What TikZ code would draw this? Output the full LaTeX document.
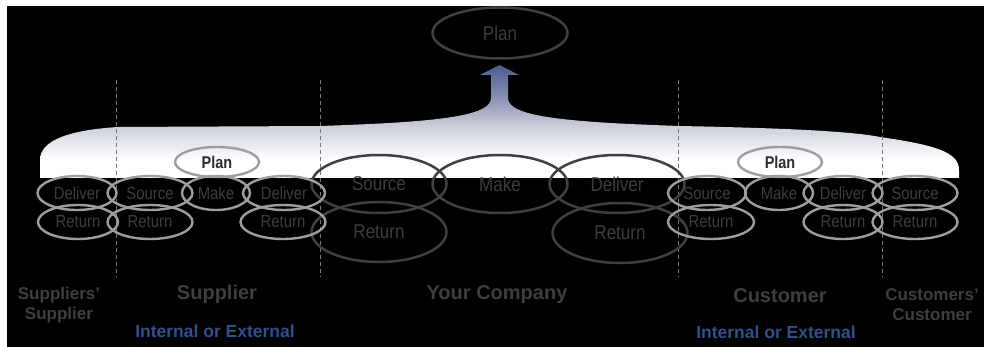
\documentclass[tikz,border=0pt]{standalone}
\usepackage{fontspec}
\setmainfont{Liberation Sans}
\newfontfamily\narrowfont[FakeStretch=0.85]{Liberation Sans}
\usetikzlibrary{shapes.geometric}
\definecolor{bigline}{RGB}{64,64,64}
\definecolor{smallline}{RGB}{158,158,158}
\definecolor{labeltext}{RGB}{60,60,60}
\definecolor{regiontext}{RGB}{62,62,62}
\definecolor{regionblue}{RGB}{47,79,143}
\definecolor{divider}{RGB}{120,120,120}
\definecolor{flowband}{RGB}{204,207,219}
\definecolor{flowstem}{RGB}{140,148,180}
\definecolor{flowtip}{RGB}{74,92,145}
% vertical fade of the planning flow: white at the base, blue at the arrow tip
\pgfdeclareverticalshading{flowfade}{100bp}{
  color(0bp)=(white); color(25bp)=(white); color(33bp)=(white);
  color(48bp)=(flowband);
  color(60bp)=(flowstem);
  color(75bp)=(flowtip);
  color(100bp)=(flowtip)}
\tikzset{
  bigell/.style={ellipse, draw=bigline, line width=2.5pt, inner sep=0pt,
    minimum width=135pt, minimum height=58pt, text=labeltext,
    font=\narrowfont\fontsize{20pt}{20pt}\selectfont},
  smallell/.style={ellipse, draw=smallline, line width=2.4pt, inner sep=0pt,
    minimum width=82pt, minimum height=34pt, text=labeltext,
    font=\narrowfont\fontsize{17.5pt}{17.5pt}\selectfont},
  planell/.style={smallell, minimum width=84pt, minimum height=30pt,
    text={rgb,255:red,45;green,45;blue,45}, font=\narrowfont\bfseries\fontsize{17pt}{17pt}\selectfont},
  region/.style={text=regiontext, font=\bfseries\fontsize{20pt}{20pt}\selectfont, align=center},
  edgeregion/.style={text=regiontext, font=\bfseries\fontsize{17pt}{20pt}\selectfont, align=center},
  scope/.style={text=regionblue, font=\bfseries\fontsize{17.5pt}{18pt}\selectfont},
  divline/.style={draw=divider, line width=1pt, dash pattern=on 4pt off 3pt}
}
\begin{document}
\begin{tikzpicture}[x=1pt,y=-1pt]
\useasboundingbox (0,0) rectangle (984,347);
\fill[white] (0,0) rectangle (984,347);
\fill[black] (7,6) rectangle (984,347);

% planning flow band rising into the arrow
\shade[shading=flowfade]
  (40,178) -- (40,160)
  .. controls (40,140) and (70,130) .. (118,127)
  -- (320,126)
  .. controls (440,122) and (491,116) .. (491,98)
  -- (491,75) -- (480,75) -- (499.5,65) -- (519,75) -- (508,75) -- (508,98)
  .. controls (508,116) and (560,122) .. (680,126)
  .. controls (780,128) and (850,131) .. (880,137)
  .. controls (935,145) and (959,152) .. (959,170)
  -- (959,178) -- cycle;

% dividers between the partners
\coordinate (d1t) at (116,80); \coordinate (d1b) at (116,277);
\coordinate (d2t) at (320,80); \coordinate (d2b) at (320,277);
\coordinate (d3t) at (678,80); \coordinate (d3b) at (678,277);
\coordinate (d4t) at (882,80); \coordinate (d4b) at (882,277);
\draw[divline] (d1t) -- (d1b);
\draw[divline] (d2t) -- (d2b);
\draw[divline] (d3t) -- (d3b);
\draw[divline] (d4t) -- (d4b);

% top-level plan
\node[bigell, minimum height=51pt] (topplan) at (500,33) {Plan};

% your company
\node[bigell] (ysrc) at (379,184) {Source};
\node[bigell] (ymake) at (500,184) {Make};
\node[bigell] (ydel) at (617,184) {Deliver};
\node[bigell, minimum height=60pt] (yret1) at (379,232) {Return};
\node[bigell, minimum height=60pt] (yret2) at (620,233) {Return};

% supplier side
\node[planell] (splan) at (217,162) {Plan};
\node[smallell, minimum width=79pt] (ssdel) at (77,193) {Deliver};
\node[smallell, minimum width=85pt] (ssrc) at (150,193) {Source};
\node[smallell, minimum width=68pt] (smake) at (216,193) {Make};
\node[smallell] (sdel) at (284,193) {Deliver};
\node[smallell, minimum width=80pt] (ssret) at (78,222) {Return};
\node[smallell, minimum width=85pt] (sret1) at (150,222) {Return};
\node[smallell, minimum width=85pt] (sret2) at (283,222) {Return};

% customer side
\node[planell] (cplan) at (780,162) {Plan};
\node[smallell, minimum width=78pt] (csrc) at (707,193) {Source};
\node[smallell, minimum width=68pt] (cmake) at (779,193) {Make};
\node[smallell, minimum width=79pt] (cdel) at (843,193) {Deliver};
\node[smallell, minimum width=85pt] (ccsrc) at (915,193) {Source};
\node[smallell, minimum width=86pt] (cret1) at (711,222) {Return};
\node[smallell, minimum width=79pt] (cret2) at (843,222) {Return};
\node[smallell, minimum width=85pt] (ccret) at (915,222) {Return};

% partner names
\node[edgeregion] (ssup) at (59,305) {Suppliers’\\Supplier};
\node[region] (sup) at (217,294) {Supplier};
\node[region] (you) at (497,295) {Your Company};
\node[region] (cus) at (780,296) {Customer};
\node[edgeregion] (ccus) at (932,305) {Customers’\\Customer};
\node[scope] (sscope) at (215,331) {Internal or External};
\node[scope] (cscope) at (776,332) {Internal or External};
\end{tikzpicture}
\end{document}
